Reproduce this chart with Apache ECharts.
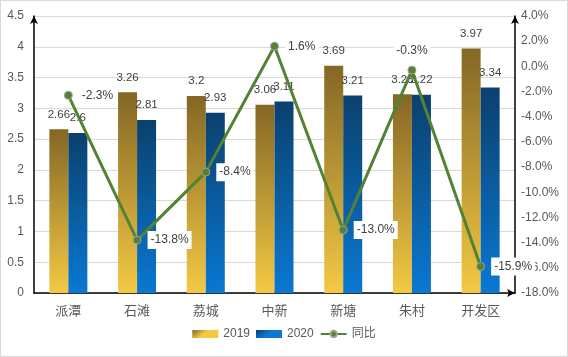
<!DOCTYPE html>
<html><head><meta charset="utf-8">
<script src="https://cdn.jsdelivr.net/npm/echarts@6/dist/echarts.min.js"></script>
<style>html,body{margin:0;padding:0;background:#fff}#c{width:568px;height:357px;box-sizing:border-box;border:1px solid #d9d9d9}</style>
</head><body><div id="c"></div>
<script>
var categories = ['派潭','石滩','荔城','中新','新塘','朱村','开发区'];
var values2019 = [2.66, 3.26, 3.2, 3.06, 3.69, 3.23, 3.97];
var values2020 = [2.6, 2.81, 2.93, 3.11, 3.21, 3.22, 3.34];
var yoy = [-2.3, -13.8, -8.4, 1.6, -13.0, -0.3, -15.9];
var yoyLabelPos = ['right','right','right','right','right','top','right'];

var FONT = '"Liberation Sans","Noto Sans CJK SC",sans-serif';
var chart = echarts.init(document.getElementById('c'));
function grad(c1, c2){
  return new echarts.graphic.LinearGradient(0,0,0.25,1,[{offset:0,color:c1},{offset:1,color:c2}]);
}
var barLabel = {show:true, position:'top', distance:9, color:'#404040', fontSize:11.5, fontFamily:FONT};
chart.setOption({
  animation:false,
  textStyle:{fontFamily:FONT},
  grid:{left:33, right:52, top:15, bottom:63},
  legend:{bottom:11, left:'center', itemWidth:26, itemHeight:8, itemGap:6,
    textStyle:{color:'#595959', fontSize:12, fontFamily:FONT},
    data:[{name:'2019', icon:'rect'},{name:'2020', icon:'rect'},{name:'同比'}]},
  xAxis:{type:'category', data:categories,
    axisLine:{lineStyle:{color:'#000', width:1.5}, symbol:['none','arrow'], symbolSize:[6,8]},
    axisTick:{show:false},
    axisLabel:{color:'#595959', fontSize:13, margin:12, fontFamily:FONT}},
  yAxis:[
    {type:'value', min:0, max:4.5, interval:0.5,
     axisLine:{show:true, lineStyle:{color:'#000', width:1.5}, symbol:['none','arrow'], symbolSize:[6,8]},
     axisTick:{show:false},
     axisLabel:{color:'#595959', fontSize:12, margin:10},
     splitLine:{lineStyle:{color:'#d9d9d9'}}},
    {type:'value', min:-18, max:4, interval:2, position:'right',
     axisLine:{show:true, lineStyle:{color:'#000', width:1.5}, symbol:['none','arrow'], symbolSize:[6,8]},
     axisTick:{show:false},
     axisLabel:{color:'#595959', fontSize:12, margin:6, formatter:function(v){return v.toFixed(1)+'%';}},
     splitLine:{show:false}}
  ],
  series:[
    {name:'2019', type:'bar', data:values2019, barWidth:19, barGap:'0%',
     itemStyle:{color:grad('#846726','#f3c944')}, label:barLabel},
    {name:'2020', type:'bar', data:values2020, barWidth:19,
     itemStyle:{color:grad('#0b406d','#0a78d2')}, label:barLabel},
    {name:'同比', type:'line', yAxisIndex:1,
     data:yoy.map(function(v,i){return {value:v, label:{position:yoyLabelPos[i]}};}),
     symbol:'circle', symbolSize:8,
     lineStyle:{color:'#548235', width:3},
     itemStyle:{color:'#5a7d3a', borderColor:'#9aa58e', borderWidth:1},
     label:{show:true, distance:6, color:'#404040', fontSize:12, backgroundColor:'#fff', padding:[3,3],
       formatter:function(p){return p.value.toFixed(1)+'%';}},
     z:5}
  ]
});
</script></body></html>
